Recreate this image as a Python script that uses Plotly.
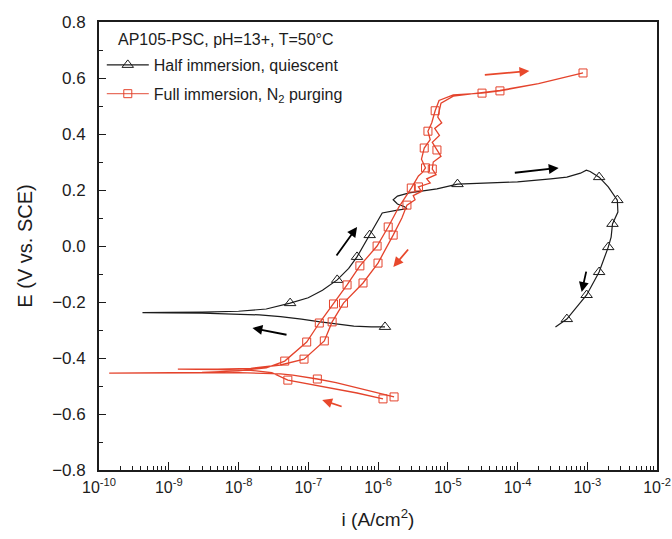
import numpy as np
import plotly.graph_objects as go

# ---- Half immersion, quiescent (black) : scan path, current density (A/cm2) and potential (V vs SCE)
half_i = [1.26e-6, 8e-7, 4.5e-7, 2.5e-7, 1.4e-7, 8e-8, 4e-8, 2e-8, 8e-9, 3e-9, 1e-9, 4.2e-10,
          1e-9, 3e-9, 1e-8, 2.5e-8, 5.5e-8, 1.0e-7, 1.6e-7, 2.6e-7, 3.8e-7, 5.0e-7, 7.6e-7,
          1.15e-6, 1.9e-6, 2.6e-6, 2.4e-6, 1.9e-6, 1.65e-6, 1.9e-6, 2.8e-6, 4.5e-6, 7e-6,
          1.38e-5, 3e-5, 1e-4, 3e-4, 5.1e-4, 8e-4, 9.7e-4, 1.1e-3, 1.48e-3, 2e-3, 2.7e-3,
          2.75e-3, 2.3e-3, 2.2e-3, 2.0e-3, 1.48e-3, 9.8e-4, 5.1e-4, 3.5e-4]
half_E = [-0.289, -0.289, -0.286, -0.279, -0.270, -0.261, -0.252, -0.246, -0.242, -0.240, -0.239, -0.238,
          -0.237, -0.236, -0.233, -0.225, -0.204, -0.185, -0.158, -0.121, -0.080, -0.039, 0.039,
          0.118, 0.128, 0.133, 0.140, 0.150, 0.165, 0.178, 0.190, 0.197, 0.204,
          0.221, 0.225, 0.229, 0.240, 0.246, 0.260, 0.271, 0.266, 0.246, 0.211, 0.164,
          0.121, 0.079, 0.032, -0.004, -0.093, -0.175, -0.261, -0.289]
half_mark_i = [1.26e-6, 5.5e-8, 2.6e-7, 5.0e-7, 7.6e-7, 1.38e-5, 1.48e-3, 2.7e-3, 2.3e-3, 2.0e-3,
               1.48e-3, 9.8e-4, 5.1e-4]
half_mark_E = [-0.289, -0.204, -0.121, -0.039, 0.039, 0.221, 0.246, 0.164, 0.079, -0.004,
               -0.093, -0.175, -0.261]

# ---- Full immersion, N2 purging (red)
full_i = [1.7e-6, 6e-7, 2.5e-7, 1.35e-7, 6e-8, 4e-8, 1e-8, 3e-9, 5e-10, 1.4e-10,
          5e-10, 3e-9, 1e-8, 2.5e-8, 4.6e-8, 9.5e-8, 1.44e-7, 2.3e-7, 3.6e-7, 5.5e-7, 9.7e-7,
          1.4e-6, 2.0e-6, 3.0e-6, 3.8e-6, 4.3e-6, 4.8e-6, 4.2e-6, 4.6e-6, 5.6e-6, 5.2e-6,
          5.9e-6, 6.6e-6, 7.5e-6, 1.2e-5, 3.1e-5, 5.6e-5, 2e-4, 8.7e-4,
          2e-4, 5.6e-5, 3.1e-5, 1.2e-5, 8e-6, 7.2e-6, 8.2e-6, 6.5e-6, 7.6e-6, 6.0e-6, 7.0e-6,
          8.0e-6, 6.2e-6, 6.0e-6, 6.8e-6, 5.0e-6, 5.6e-6, 3.8e-6, 4.2e-6, 3.2e-6, 3.4e-6,
          2.6e-6, 2.2e-6, 1.65e-6, 1.0e-6, 6.1e-7, 3.2e-7, 2.2e-7, 1.7e-7, 8.7e-8, 4e-8,
          1.5e-8, 5e-9, 1.35e-9, 5e-9, 1.5e-8, 3e-8, 5.1e-8, 2e-7, 5e-7, 1.18e-6]
full_E = [-0.539, -0.510, -0.488, -0.475, -0.461, -0.457, -0.452, -0.453, -0.454, -0.454,
          -0.453, -0.451, -0.446, -0.435, -0.411, -0.343, -0.275, -0.207, -0.139, -0.071, 0.000,
          0.068, 0.140, 0.207, 0.250, 0.262, 0.279, 0.310, 0.350, 0.380, 0.410,
          0.440, 0.483, 0.520, 0.540, 0.546, 0.554, 0.580, 0.618,
          0.580, 0.556, 0.548, 0.535, 0.510, 0.460, 0.440, 0.420, 0.395, 0.370, 0.343,
          0.320, 0.300, 0.275, 0.255, 0.240, 0.225, 0.211, 0.195, 0.180, 0.165,
          0.146, 0.100, 0.039, -0.061, -0.132, -0.204, -0.271, -0.339, -0.404, -0.425,
          -0.437, -0.440, -0.440, -0.441, -0.444, -0.452, -0.479, -0.506, -0.525, -0.546]
full_mark_i = [1.7e-6, 1.35e-7, 4.6e-8, 9.5e-8, 1.44e-7, 2.3e-7, 3.6e-7, 5.5e-7, 9.7e-7, 1.4e-6,
               3.0e-6, 4.8e-6, 4.6e-6, 5.2e-6, 6.6e-6, 3.1e-5, 5.6e-5, 8.7e-4,
               7.0e-6, 6.0e-6, 3.8e-6, 2.6e-6, 1.65e-6, 1.0e-6, 6.1e-7, 3.2e-7, 2.2e-7, 1.7e-7,
               8.7e-8, 5.1e-8, 1.18e-6]
full_mark_E = [-0.539, -0.475, -0.411, -0.343, -0.275, -0.207, -0.139, -0.071, 0.000, 0.068,
               0.207, 0.279, 0.350, 0.410, 0.483, 0.546, 0.554, 0.618,
               0.343, 0.275, 0.211, 0.146, 0.039, -0.061, -0.132, -0.204, -0.271, -0.339,
               -0.404, -0.479, -0.546]

# ---- scan-direction arrows: (tail log10 i, tail E, head log10 i, head E, colour)
arrows = [
    (-6.61, -0.039, -6.30, 0.068, "black"),
    (-7.29, -0.318, -7.80, -0.293, "black"),
    (-4.06, 0.261, -3.41, 0.279, "black"),
    (-3.01, -0.086, -3.08, -0.164, "black"),
    (-4.49, 0.611, -3.83, 0.625, "#e8482c"),
    (-5.55, -0.007, -5.78, -0.075, "#e8482c"),
    (-6.50, -0.575, -6.80, -0.550, "#e8482c"),
]

x_tick_vals = [10.0 ** k for k in range(-10, -1)]
x_tick_text = ["10<sup>%d</sup>" % k for k in range(-10, -1)]
y_tick_vals = [-0.8, -0.6, -0.4, -0.2, 0.0, 0.2, 0.4, 0.6, 0.8]

BLACK = "#1c1c1c"
RED = "#e4432c"
FONT = "Liberation Sans, Arial, sans-serif"

fig = go.Figure()

fig.add_trace(go.Scatter(x=half_i, y=half_E, mode="lines", line=dict(color=BLACK, width=1.2),
                         showlegend=False, hoverinfo="skip"))
fig.add_trace(go.Scatter(x=half_mark_i, y=half_mark_E, mode="markers",
                         marker=dict(symbol="triangle-up-open", size=10, color=BLACK, line=dict(width=1)),
                         showlegend=False))
fig.add_trace(go.Scatter(x=full_i, y=full_E, mode="lines", line=dict(color=RED, width=1.3),
                         showlegend=False, hoverinfo="skip"))
fig.add_trace(go.Scatter(x=full_mark_i, y=full_mark_E, mode="markers",
                         marker=dict(symbol="square-open", size=8, color=RED, line=dict(width=1)),
                         showlegend=False))

# legend entries
fig.add_trace(go.Scatter(x=[None], y=[None], mode="lines+markers", name="Half immersion, quiescent",
                         line=dict(color=BLACK, width=1.2), legendgroup="a",
                         marker=dict(symbol="triangle-up-open", size=10, color=BLACK, line=dict(width=1))))
fig.add_trace(go.Scatter(x=[None], y=[None], mode="lines+markers",
                         name="Full immersion, N<sub>2</sub> purging", legendgroup="b",
                         line=dict(color="#e87060", width=1.2),
                         marker=dict(symbol="square-open", size=8, color=RED, line=dict(width=1))))

for tx, ty, hx, hy, col in arrows:
    fig.add_annotation(x=hx, y=hy, ax=tx, ay=ty, xref="x", yref="y", axref="x", ayref="y",
                       showarrow=True, arrowhead=2, arrowsize=1.1, arrowwidth=1.8, arrowcolor=col, text="")

fig.add_annotation(x=0.031, y=0.96, xref="paper", yref="paper", xanchor="left", yanchor="middle",
                   text="AP105-PSC, pH=13+, T=50°C",
                   showarrow=False, font=dict(size=16, color=BLACK, family=FONT))

fig.update_layout(
    width=672, height=539,
    margin=dict(l=99, r=15, t=22, b=69, autoexpand=False),
    paper_bgcolor="white", plot_bgcolor="white",
    font=dict(family=FONT, color=BLACK, size=17),
    legend=dict(x=0.005, y=0.942, xanchor="left", yanchor="top", bgcolor="rgba(0,0,0,0)",
                font=dict(size=16, family=FONT, color=BLACK), tracegroupgap=5, itemwidth=42),
)

fig.update_xaxes(type="log", range=[-10, -2], tickvals=x_tick_vals, ticktext=x_tick_text,
                 ticks="inside", ticklen=8, tickwidth=1.3, tickcolor=BLACK,
                 minor=dict(ticks="inside", ticklen=4, dtick="D1", tickcolor=BLACK, showgrid=False),
                 showline=True, linecolor=BLACK, linewidth=1.8, mirror=True, showgrid=False,
                 zeroline=False, tickfont=dict(size=16), ticklabelstandoff=2,
                 ticklabeloverflow="allow", automargin=False,
                 title=dict(text="i (A/cm<sup>2</sup>)", font=dict(size=19), standoff=18))
fig.update_yaxes(range=[-0.8, 0.8], tickvals=y_tick_vals, tickformat=".1f",
                 ticks="inside", ticklen=7, tickwidth=1.3, tickcolor=BLACK,
                 minor=dict(ticks="inside", ticklen=4, dtick=0.1, tickcolor=BLACK, showgrid=False),
                 showline=True, linecolor=BLACK, linewidth=1.8, mirror=True, showgrid=False,
                 zeroline=False, tickfont=dict(size=17), ticklabelstandoff=8, automargin=False,
                 title=dict(text="E (V vs. SCE)", font=dict(size=20), standoff=14))

fig.write_html("out.html")
